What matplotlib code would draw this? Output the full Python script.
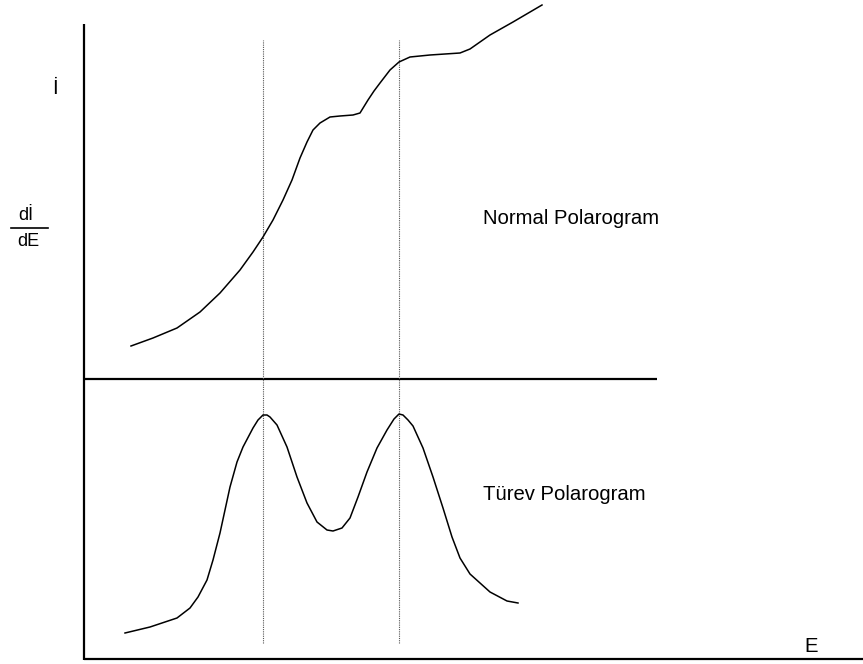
import matplotlib
matplotlib.use("Agg")
import matplotlib.pyplot as plt

plt.rcParams['font.family'] = ['Liberation Sans', 'DejaVu Sans']

# normal polarogram (potential E, current i)
normal_E = [47, 69, 93, 116, 136, 156, 169, 179, 189, 199, 208, 216, 223, 229,
            236, 246, 256, 269, 276, 284, 290, 296, 306, 315, 326, 346, 376,
            386, 406, 429, 458]
normal_i = [313, 321, 331, 347, 366, 389, 407, 422, 439, 459, 479, 501, 517, 529,
            536, 542, 543, 544, 546, 559, 568, 576, 589, 597, 602, 604, 606,
            610, 624, 637, 654]

# derivative polarogram (di/dE)
deriv_E = [41, 66, 93, 106, 114, 123, 129, 136, 141, 146, 153, 159, 169, 174,
           179, 183, 186, 193, 203, 213, 223, 233, 243, 249, 258, 266, 274, 283,
           293, 303, 310, 315, 319, 324, 329, 339, 349, 359, 368, 376, 386, 406,
           423, 434]
deriv_di = [26, 32, 41, 51, 62, 79, 99, 126, 149, 172, 197, 212, 231, 239,
            244, 244, 242, 234, 212, 182, 156, 137, 129, 128, 131, 141, 162, 187,
            211, 229, 240, 245, 244, 239, 233, 211, 182, 151, 122, 101, 85, 67,
            58, 56]

# half-wave potentials (peaks)
peaks_E = [179, 315]

fig = plt.figure(figsize=(8.63, 6.64), dpi=100)
ax = fig.add_axes([0, 0, 1, 1])
ax.set_xlim(-84, 779)
ax.set_ylim(-5, 659)
ax.axis('off')

# axes drawn by hand like the sketch
ax.plot([0, 0], [-1, 635], color='black', lw=1.6, solid_capstyle='butt')
ax.plot([0, 779], [0, 0], color='black', lw=1.6, solid_capstyle='butt')
ax.plot([0, 573], [280, 280], color='black', lw=1.6, solid_capstyle='butt')

for e in peaks_E:
    ax.plot([e, e], [16, 619], color='#555555', lw=0.8, ls=(0, (1, 1)))

ax.plot(normal_E, normal_i, color='black', lw=1.1)
ax.plot(deriv_E, deriv_di, color='black', lw=1.1)

ax.text(399, 441, 'Normal Polarogram', fontsize=14.6, ha='left', va='center')
ax.text(399, 164, 'Türev Polarogram', fontsize=14.6, ha='left', va='center')
ax.text(727, 12, 'E', fontsize=14.6, ha='center', va='center')
ax.text(-29, 571, 'İ', fontsize=14.6, ha='center', va='center')
ax.text(-58, 443, 'dİ', fontsize=13, ha='center', va='center')
ax.text(-56, 418, 'dE', fontsize=13, ha='center', va='center')
ax.plot([-73, -36], [431, 431], color='black', lw=1.2)

fig.savefig('out.png', dpi=100)
